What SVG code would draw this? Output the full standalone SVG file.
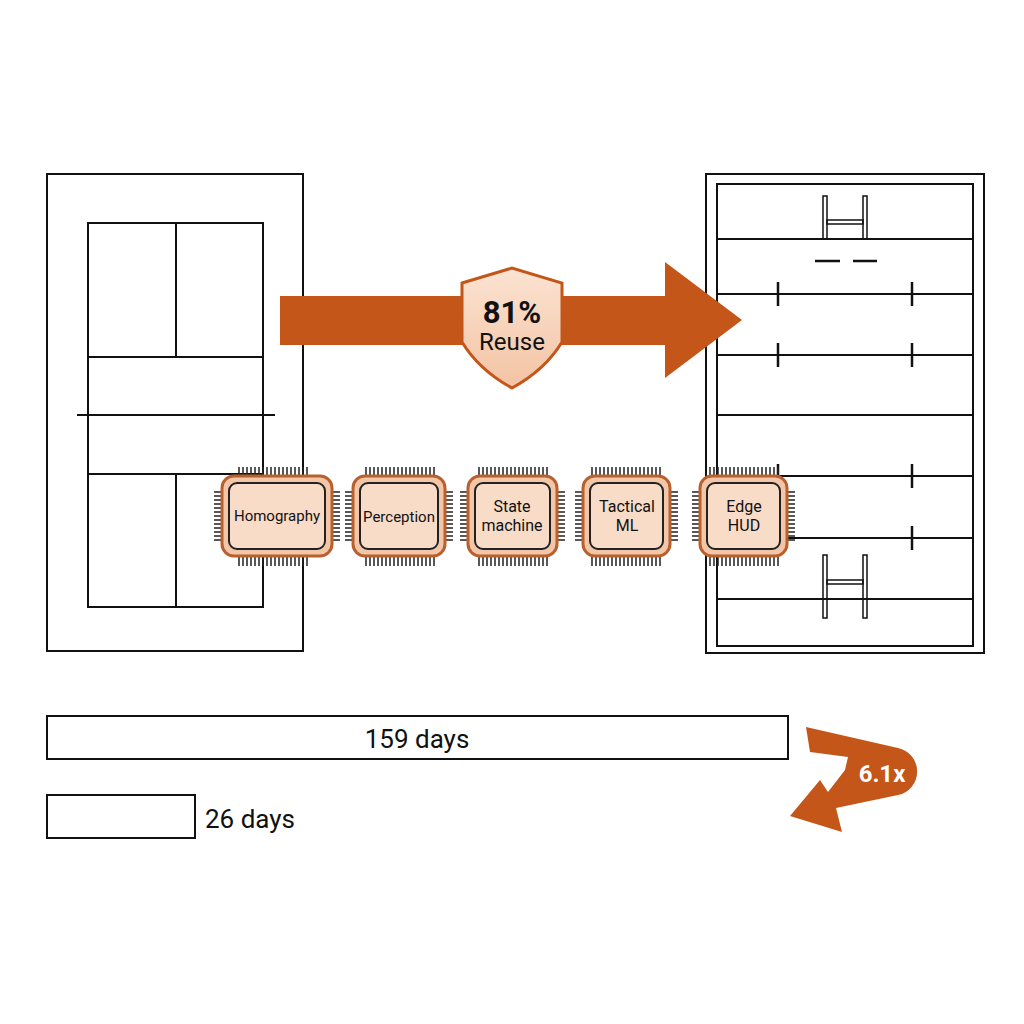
<svg xmlns="http://www.w3.org/2000/svg" width="1024" height="1024" viewBox="0 0 1024 1024">
<defs>
<style>
.ln{fill:none;stroke:#111;stroke-width:2}
.chip{fill:#f3c6a8;stroke:#b8602e;stroke-width:3}
.chipin{fill:#f8dcc8;stroke:#222;stroke-width:2}
.pin{stroke:#222;stroke-width:1.5}
.t{font-family:Roboto,"Liberation Sans",sans-serif;fill:#111;text-anchor:middle}
</style>
<linearGradient id="sg" x1="0" y1="0" x2="0" y2="1"><stop offset="0" stop-color="#fbe3d2"/><stop offset="1" stop-color="#f3c3a3"/></linearGradient>
<g id="pinsH"><path class="pin" d="M0 0v10M4 0v10M8 0v10M12 0v10M16 0v10M20 0v10M24 0v10M28 0v10M32 0v10M36 0v10M40 0v10M44 0v10M48 0v10M52 0v10M56 0v10M60 0v10M64 0v10M68 0v10"/></g>
<g id="pinsV"><path class="pin" d="M0 0h8M0 4h8M0 8h8M0 12h8M0 16h8M0 20h8M0 24h8M0 28h8M0 32h8M0 36h8M0 40h8M0 44h8M0 48h8"/></g>
</defs>
<rect width="1024" height="1024" fill="#fff"/>
<g id="left-court" class="ln">
<rect x="47" y="174" width="256" height="477"/>
<rect x="88" y="223" width="175" height="384"/>
<line x1="176" y1="223" x2="176" y2="357"/>
<line x1="176" y1="474" x2="176" y2="607"/>
<line x1="88" y1="357" x2="263" y2="357"/>
<line x1="88" y1="474" x2="263" y2="474"/>
<line x1="77" y1="415" x2="275" y2="415"/>
</g>
<g id="right-field" class="ln">
<rect x="706" y="174" width="278" height="479"/>
<rect x="717" y="184" width="256" height="462"/>
<path d="M717 239H973M717 294H973M717 355H973M717 415H973M717 476H973M717 538H973M717 599H973"/>
<path d="M778 282V306M912 282V306M778 343V367M912 343V367M778 464V488M912 464V488M778 526V550M912 526V550" stroke-width="2.5"/>
<path d="M815 261H840M853 261H877" stroke-width="2.5"/>
<rect x="823" y="196" width="4" height="43" stroke-width="1.5"/>
<rect x="863" y="196" width="4" height="43" stroke-width="1.5"/>
<rect x="827" y="220" width="36" height="4" stroke-width="1.5"/>
<rect x="823" y="555" width="4" height="63" stroke-width="1.5"/>
<rect x="863" y="555" width="4" height="63" stroke-width="1.5"/>
<rect x="827" y="580" width="36" height="4" stroke-width="1.5"/>
</g>
<g id="reuse-arrow">
<path d="M280 296H665V262L742 320L665 378V345H280Z" fill="#c4561a"/>
<path d="M462 283L512 268L562 283V342Q545 370 512 388Q479 370 462 342Z" fill="url(#sg)" stroke="#c4561a" stroke-width="3"/>
<text class="t" x="512" y="323" font-size="31" font-weight="bold">81%</text>
<text class="t" x="512" y="350" font-size="24">Reuse</text>
</g>
<g id="chip-homography">
<use href="#pinsH" x="239" y="467"/><use href="#pinsH" x="239" y="556"/>
<use href="#pinsV" x="214" y="492"/><use href="#pinsV" x="332" y="492"/>
<rect class="chip" x="222" y="476" width="110" height="80" rx="12"/>
<rect class="chipin" x="229" y="483" width="96" height="66" rx="8"/>
<text class="t" x="277" y="521" font-size="15">Homography</text>
</g>
<g id="chip-perception">
<use href="#pinsH" x="366" y="467"/><use href="#pinsH" x="366" y="556"/>
<use href="#pinsV" x="345" y="492"/><use href="#pinsV" x="445" y="492"/>
<rect class="chip" x="353" y="476" width="92" height="80" rx="12"/>
<rect class="chipin" x="360" y="483" width="78" height="66" rx="8"/>
<text class="t" x="399" y="522" font-size="15">Perception</text>
</g>
<g id="chip-state">
<use href="#pinsH" x="479" y="467"/><use href="#pinsH" x="479" y="556"/>
<use href="#pinsV" x="460" y="492"/><use href="#pinsV" x="557" y="492"/>
<rect class="chip" x="468" y="476" width="89" height="80" rx="12"/>
<rect class="chipin" x="475" y="483" width="75" height="66" rx="8"/>
<text class="t" x="512" y="512" font-size="16">State</text>
<text class="t" x="512" y="531" font-size="16">machine</text>
</g>
<g id="chip-tactical">
<use href="#pinsH" x="592" y="467"/><use href="#pinsH" x="592" y="556"/>
<use href="#pinsV" x="575" y="492"/><use href="#pinsV" x="670" y="492"/>
<rect class="chip" x="583" y="476" width="87" height="80" rx="12"/>
<rect class="chipin" x="590" y="483" width="73" height="66" rx="8"/>
<text class="t" x="627" y="512" font-size="16">Tactical</text>
<text class="t" x="627" y="531" font-size="16">ML</text>
</g>
<g id="chip-edge">
<use href="#pinsH" x="710" y="467"/><use href="#pinsH" x="710" y="556"/>
<use href="#pinsV" x="692" y="492"/><use href="#pinsV" x="787" y="492"/>
<rect class="chip" x="700" y="476" width="87" height="80" rx="12"/>
<rect class="chipin" x="707" y="483" width="73" height="66" rx="8"/>
<text class="t" x="744" y="512" font-size="16">Edge</text>
<text class="t" x="744" y="531" font-size="16">HUD</text>
</g>
<g id="bars">
<rect class="ln" x="47" y="716" width="741" height="43"/>
<text class="t" x="417" y="748" font-size="26">159 days</text>
<rect class="ln" x="47" y="795" width="148" height="43"/>
<text class="t" x="205" y="828" font-size="26" style="text-anchor:start">26 days</text>
</g>
<g id="speedup">
<path d="M806 727L898 748A24 24 0 0 1 898 795L836 808L842 832L790 816L820 780L828 792L845 770L848 757L810 752Z" fill="#c4561a"/>
<text x="882" y="782" font-family="Roboto,'Liberation Sans',sans-serif" font-size="24" font-weight="bold" fill="#fff" text-anchor="middle">6.1x</text>
</g>
</svg>
